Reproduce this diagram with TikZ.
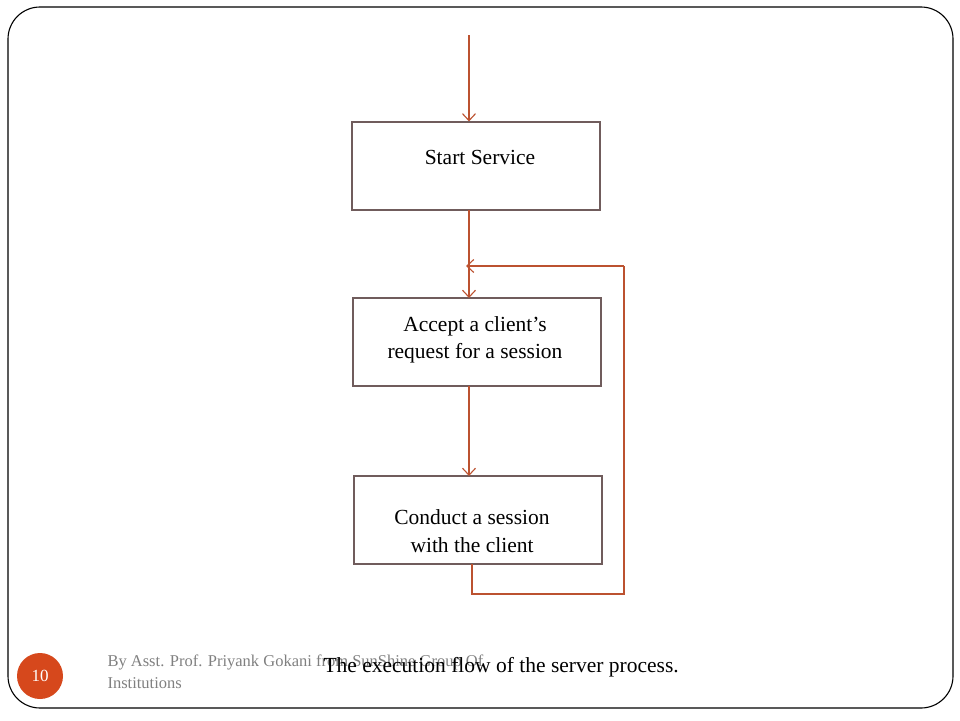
\documentclass[tikz,border=0pt]{standalone}
\usepackage{fontspec}
\setmainfont{Liberation Serif}
\usetikzlibrary{arrows.meta}
\definecolor{arrowc}{RGB}{188,82,48}
\definecolor{boxc}{RGB}{112,92,92}
\definecolor{badge}{RGB}{214,72,28}
\definecolor{footc}{RGB}{128,128,128}
\begin{document}
\begin{tikzpicture}[x=1pt,y=-1pt,
  stepbox/.style={draw=boxc,line width=1.1pt,minimum width=248pt,minimum height=88pt,inner sep=0pt},
  boxtext/.style={font=\fontsize{21.5}{27.5}\selectfont,align=center},
  flow/.style={draw=arrowc,line width=1.1pt,-{Straight Barb[length=7pt,width=13pt]}},
  loopline/.style={draw=arrowc,line width=1.1pt}]
\useasboundingbox (0,0) rectangle (960,720);
\fill[white] (0,0) rectangle (960,720);
\draw[line width=1.1pt,rounded corners=32pt] (8,7) rectangle (953,708);
% boxes
\node[stepbox] (start) at (476,166) {};
\node[boxtext] (starttxt) at (480,157) {Start Service};
\node[stepbox] (accept) at (477,342) {};
\node[boxtext] (accepttxt) at (475,340) {Accept a client’s\\request for a session};
\node[stepbox] (conduct) at (478,520) {};
\node[boxtext] (conducttxt) at (472,531) {Conduct a session\\with the client};
% connectors
\coordinate (topin) at (469,35);
\coordinate (loopa) at (472,594);
\coordinate (loopb) at (624,594);
\coordinate (loopc) at (624,266);
\coordinate (loopd) at (466,266);
\draw[flow] (topin) -- (topin |- start.north);
\draw[flow] (469,210) -- (469,298);
\draw[flow] (469,386) -- (469,476);
\draw[loopline] (472,564) -- (loopa) -- (loopb) -- (loopc);
\draw[flow] (loopc) -- (loopd);
% footer
\node[circle,fill=badge,minimum size=46pt,inner sep=0pt,text=white,font=\fontsize{17}{20}\selectfont] (badgeN) at (40,676) {10};
\node[anchor=west,text=footc,font=\fontsize{16.5}{22}\selectfont,align=left] (foot) at (104,672) {By Asst. Prof. Priyank Gokani from SunShine Group Of\\Institutions};
\node[anchor=west,font=\fontsize{21.5}{24}\selectfont] (caption) at (320,667) {The execution flow of the server process.};
\end{tikzpicture}
\end{document}
